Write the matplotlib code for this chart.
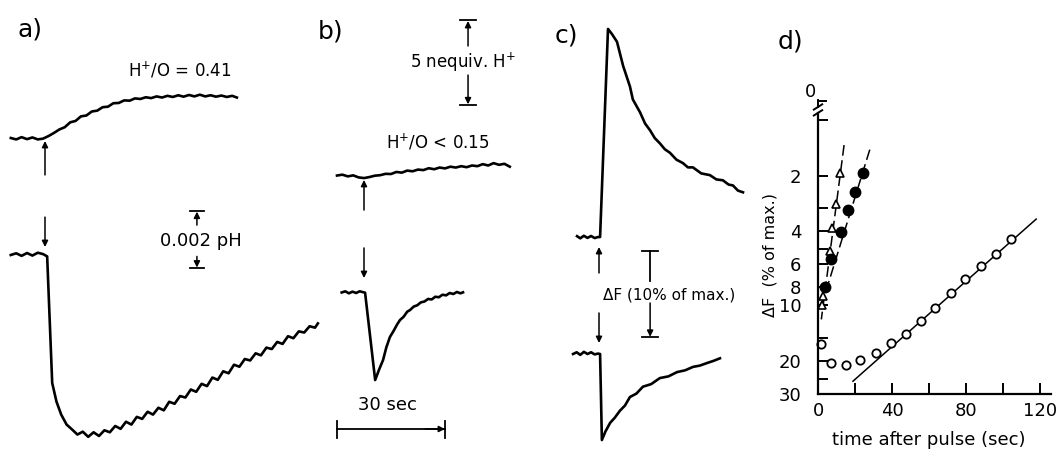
import numpy as np
import matplotlib
matplotlib.use("Agg")
import matplotlib.pyplot as plt
from matplotlib.ticker import FixedLocator, NullLocator

# ---- data ----
# traces: time (s, 0 = pulse) and change from baseline
# a) pH change in units of 0.001 pH
a_up_t = [-9.5, -8, -6.5, -5, -3.5, -2, -0.5, 1, 2.5, 4, 5.5, 7, 8.5, 10, 11.5, 13, 14.5, 16,
          17.5, 19, 20.5, 22, 23.5, 25, 26.5, 28, 29.5, 31, 32.5, 34, 35.5, 37, 38.5, 40, 41.5,
          43, 44.5, 46, 47.5, 49, 50.5, 52, 53.3]
a_up_d = [0, -0.05, 0.03, -0.04, 0.02, -0.05, -0.02, 0.07, 0.18, 0.3, 0.38, 0.55, 0.6, 0.76,
          0.79, 0.93, 0.96, 1.08, 1.1, 1.22, 1.23, 1.32, 1.31, 1.39, 1.37, 1.43, 1.4, 1.46,
          1.42, 1.48, 1.44, 1.5, 1.45, 1.51, 1.46, 1.52, 1.46, 1.5, 1.45, 1.49, 1.44, 1.48, 1.42]
a_lo_t = [-9.5, -8, -6.5, -5, -3.5, -2, -0.5, 0.6, 2.0, 3.2, 4.5, 6, 7.5, 9, 10.5, 12, 13.5,
          15, 16.5, 18, 19.5, 21, 22.5, 24, 25.5, 27, 28.5, 30, 31.5, 33, 34.5, 36, 37.5, 39,
          40.5, 42, 43.5, 45, 46.5, 48, 49.5, 51, 52.5, 54, 55.5, 57, 58.5, 60, 61.5, 63, 64.5,
          66, 67.5, 69, 70.5, 72, 73.5, 75, 75.8]
a_lo_d = [0, 0.06, -0.03, 0.07, -0.02, 0.08, 0.03, -0.05, -4.49, -5.15, -5.6, -5.95, -6.12,
          -6.3, -6.2, -6.38, -6.22, -6.35, -6.15, -6.22, -6.0, -6.1, -5.85, -5.95, -5.68, -5.75,
          -5.5, -5.6, -5.36, -5.45, -5.15, -5.22, -4.95, -5.0, -4.72, -4.8, -4.52, -4.6, -4.3,
          -4.38, -4.08, -4.15, -3.85, -3.92, -3.65, -3.7, -3.45, -3.52, -3.25, -3.3, -3.05,
          -3.12, -2.85, -2.92, -2.68, -2.72, -2.5, -2.55, -2.4]

# b) nequiv H+
b_up_t = [-7.5, -6, -4.5, -3, -1.5, 0, 1.5, 3, 4.5, 6, 7.5, 9, 10.5, 12, 13.5, 15, 16.5, 18,
          19.5, 21, 22.5, 24, 25.5, 27, 28.5, 30, 31.5, 33, 34.5, 36, 37.5, 39, 40.5]
b_up_d = [0.03, 0.08, -0.02, 0.04, -0.08, -0.12, -0.06, 0.02, 0.05, 0.13, 0.12, 0.24, 0.2,
          0.32, 0.28, 0.38, 0.35, 0.46, 0.4, 0.5, 0.45, 0.55, 0.5, 0.58, 0.52, 0.62, 0.58, 0.7,
          0.62, 0.76, 0.66, 0.72, 0.55]
b_lo_t = [-6.2, -5.2, -4.2, -3.2, -2.2, -1.2, -0.3, 0.3, 3.1, 4.2, 5.3, 6.2, 7.2, 8.3, 9.2,
          10, 11, 12, 12.8, 13.8, 14.8, 15.8, 16.8, 17.8, 18.8, 19.8, 20.8, 21.8, 22.8, 23.8,
          24.8, 25.8, 26.8, 27.5]
b_lo_d = [0.03, 0.1, -0.02, 0.08, 0.0, 0.1, 0.05, 0.02, -5.12, -4.5, -3.94, -3.2, -2.59, -2.2,
          -1.85, -1.59, -1.4, -1.1, -1.0, -0.8, -0.72, -0.55, -0.5, -0.35, -0.38, -0.22, -0.25,
          -0.1, -0.14, 0.0, -0.06, 0.06, -0.02, 0.04]

# c) fluorescence change, % of max
c_up_t = [-6.1, -5.2, -4.2, -3.2, -2.2, -1.2, -0.3, 0.3, 2.5, 3.6, 5, 6.7, 8.6, 9.4, 11.4,
          12.8, 14.2, 15.5, 16.9, 18.3, 19.7, 21.5, 23.3, 24.7, 26.1, 28.4, 30.8, 32.6, 34.4,
          36, 37.2, 38.6, 40]
c_up_d = [0.1, -0.15, 0.15, -0.1, 0.12, -0.12, 0.0, 0, 24.2, 23.6, 22.7, 19.9, 17.5, 16.0,
          14.5, 13.2, 12.4, 11.5, 10.9, 10.2, 9.8, 9.0, 8.6, 8.1, 8.1, 7.4, 7.2, 6.7, 6.6, 6.1,
          6.0, 5.4, 5.2]
c_lo_t = [-7.2, -6.2, -5.2, -4.2, -3.2, -2.2, -1.2, -0.3, 0.3, 0.8, 1.8, 3.1, 4.4, 5.8, 7.2,
          8.6, 10.4, 12.2, 14.5, 16.9, 19.3, 21.7, 23.9, 26.1, 28, 30, 31.8, 33.6]
c_lo_d = [0, 0.2, -0.1, 0.25, 0.0, 0.2, -0.05, 0.05, 0, -10.0, -9.0, -8.0, -7.4, -6.6, -6.0,
          -5.0, -4.6, -3.8, -3.5, -2.8, -2.6, -2.1, -1.9, -1.5, -1.35, -1.05, -0.8, -0.5]

# d) semilog plot, time after pulse (s) vs dF (% of max)
open_t = [1.8, 6.8, 15.3, 22.9, 31.5, 39.6, 47.4, 55.9, 63.4, 72.1, 79.6, 87.9, 96.4, 104.5]
open_f = [16.1, 20.4, 20.9, 19.8, 18.0, 16.0, 14.2, 12.1, 10.3, 8.58, 7.2, 6.17, 5.32, 4.38]
tri_t = [11.7, 9.9, 7.7, 6.3, 2.7, 1.9]
tri_f = [1.93, 2.84, 3.84, 5.12, 8.9, 10.0]
fill_t = [24.3, 20.2, 16.2, 12.3, 7.2, 3.6]
fill_f = [1.94, 2.44, 3.06, 4.05, 5.63, 8.0]
open_fit_t, open_fit_f = [18.9, 118], [25.6, 3.43]
tri_fit_t, tri_fit_f = [14.1, 1.8], [1.37, 11.9]
fill_fit_t, fill_fit_f = [28, 2.6], [1.45, 9.5]

ytick_vals = [1, 2, 3, 4, 5, 6, 8, 10, 15, 20, 25, 30]
ytick_labels = ["", "2", "", "4", "", "6", "8", "10", "", "20", "", "30"]
xtick_major = [0, 40, 80, 120]
xtick_minor = [20, 60, 100]

W, H = 1057, 450
fig = plt.figure(figsize=(W / 100, H / 100), dpi=100)
plt.rcParams["font.family"] = "DejaVu Sans"

TRACE = dict(color="black", lw=1.9, solid_joinstyle="round")
ARROW = dict(arrowstyle="-|>", color="black", lw=1.1, mutation_scale=9, shrinkA=0, shrinkB=0)
BAR = dict(color="black", lw=1.3)


def trace_axes(x0, y0, px_per_s, px_per_unit):
    # full-figure overlay; (x0, y0) is the pixel where t=0 and d=0
    ax = fig.add_axes([0, 0, 1, 1])
    ax.set_xlim(-x0 / px_per_s, (W - x0) / px_per_s)
    ax.set_ylim(-(H - y0) / px_per_unit, y0 / px_per_unit)
    ax.axis("off")
    return ax


def arrow(ax, x, y_from, y_to):
    ax.annotate("", xy=(x, y_to), xytext=(x, y_from), arrowprops=ARROW)


def vbar(ax, x, y_top, y_bot, half):
    ax.plot([x - half, x + half], [y_top, y_top], **BAR)
    ax.plot([x - half, x + half], [y_bot, y_bot], **BAR)


# ---- a) ----
axa = trace_axes(45, 255, 3.6, 28.5)
a_off = 4.105
axa.plot(a_up_t, np.array(a_up_d) + a_off, **TRACE)
axa.plot(a_lo_t, a_lo_d, **TRACE)
arrow(axa, 0, 2.81, 4.0)
arrow(axa, 0, 1.33, 0.28)
vbar(axa, 42.2, 1.54, -0.46, 1.9)
arrow(axa, 42.2, 1.05, 1.52)
arrow(axa, 42.2, -0.05, -0.44)
axa.text(43.3, 0.49, "0.002 pH", fontsize=13, ha="center", va="center")
axa.text(37.5, 6.49, "H$^{+}$/O = 0.41", fontsize=12, ha="center", va="center")

# ---- b) ----
axb = trace_axes(364, 293, 3.6, 17)
b_off = 6.88
axb.plot(b_up_t, np.array(b_up_d) + b_off, **TRACE)
axb.plot(b_lo_t, b_lo_d, **TRACE)
arrow(axb, 0, 4.88, 6.65)
arrow(axb, 0, 2.65, 0.88)
vbar(axb, 28.9, 16.06, 11.06, 2.2)
arrow(axb, 28.9, 14.53, 16.0)
arrow(axb, 28.9, 12.82, 11.1)
axb.text(27.5, 13.59, "5 nequiv. H$^{+}$", fontsize=12, ha="center", va="center")
axb.text(20.6, 8.88, "H$^{+}$/O < 0.15", fontsize=12, ha="center", va="center")
axb.text(6.4, -6.59, "30 sec", fontsize=13, ha="center", va="center")
axb.plot([-7.5, 22.5], [-8.0, -8.0], **BAR)
axb.plot([-7.5, -7.5], [-8.5, -7.5], **BAR)
axb.plot([22.5, 22.5], [-8.5, -7.5], **BAR)
axb.annotate("", xy=(22.5, -8.0), xytext=(17, -8.0), arrowprops=ARROW)

# ---- c) ----
axc = trace_axes(599, 354, 3.6, 8.6)
c_off = 13.6
axc.plot(c_up_t, np.array(c_up_d) + c_off, **TRACE)
axc.plot(c_lo_t, c_lo_d, **TRACE)
arrow(axc, 0, 9.42, 12.44)
arrow(axc, 0, 4.77, 1.28)
vbar(axc, 14.2, 11.98, 1.98, 2.2)
axc.plot([14.2, 14.2], [11.98, 8.49], **BAR)
arrow(axc, 14.2, 5.93, 2.0)
axc.text(19.4, 6.86, "ΔF (10% of max.)", fontsize=11, ha="center", va="center")

# ---- d) ----
axd = fig.add_axes([818 / W, 1 - 394 / H, 233 / W, 295 / H])
axd.set_yscale("log")
axd.set_xlim(0, 126)
axd.set_ylim(30, 0.774)
for s in ["top", "right"]:
    axd.spines[s].set_visible(False)
for s in ["left", "bottom"]:
    axd.spines[s].set_linewidth(1.6)
axd.spines["left"].set_bounds(30, 0.919)

axd.plot(open_fit_t, open_fit_f, color="black", lw=1.1)
axd.plot(tri_fit_t, tri_fit_f, color="black", lw=1.1, ls=(0, (7, 3)))
axd.plot(fill_fit_t, fill_fit_f, color="black", lw=1.1, ls=(0, (7, 3)))
axd.plot(open_t, open_f, "o", ms=6, mfc="white", mec="black", mew=1.3, clip_on=False)
axd.plot(tri_t, tri_f, "^", ms=6, mfc="white", mec="black", mew=1.2, clip_on=False)
axd.plot(fill_t, fill_f, "o", ms=7.5, color="black", clip_on=False)

axd.yaxis.set_major_locator(FixedLocator(ytick_vals))
axd.yaxis.set_minor_locator(NullLocator())
axd.set_yticklabels(ytick_labels)
axd.set_xticks(xtick_major)
axd.set_xticks(xtick_minor, minor=True)
axd.tick_params(axis="y", which="both", direction="in", length=7, width=1.4,
                labelsize=13, pad=12)
axd.tick_params(axis="x", which="both", direction="in", length=8, width=1.4,
                labelsize=13, pad=6)

# axis break and the "0" on top of the y axis
brk = dict(color="black", lw=1.4, transform=axd.transAxes, clip_on=False)
axd.plot([-0.018, 0.018], [0.944, 0.962], **brk)
axd.plot([-0.018, 0.018], [0.964, 0.982], **brk)
axd.plot([0, 0], [0.973, 0.995], **brk)
axd.plot([0, 0.034], [0.994, 0.994], **brk)
axd.text(-0.034, 1.024, "0", fontsize=13, ha="center", va="center", transform=axd.transAxes)

axd.set_ylabel("ΔF  (% of max.)", fontsize=11.5)
axd.yaxis.set_label_coords(-0.172, 0.471)
axd.set_xlabel("time after pulse (sec)", fontsize=13)
axd.xaxis.set_label_coords(0.476, -0.125)

# panel letters
for lab, px, py in [("a)", 30, 30), ("b)", 331, 32), ("c)", 566, 35), ("d)", 790, 42)]:
    fig.text(px / W, 1 - py / H, lab, fontsize=18, ha="center", va="center")

fig.savefig("out.png", dpi=100)
